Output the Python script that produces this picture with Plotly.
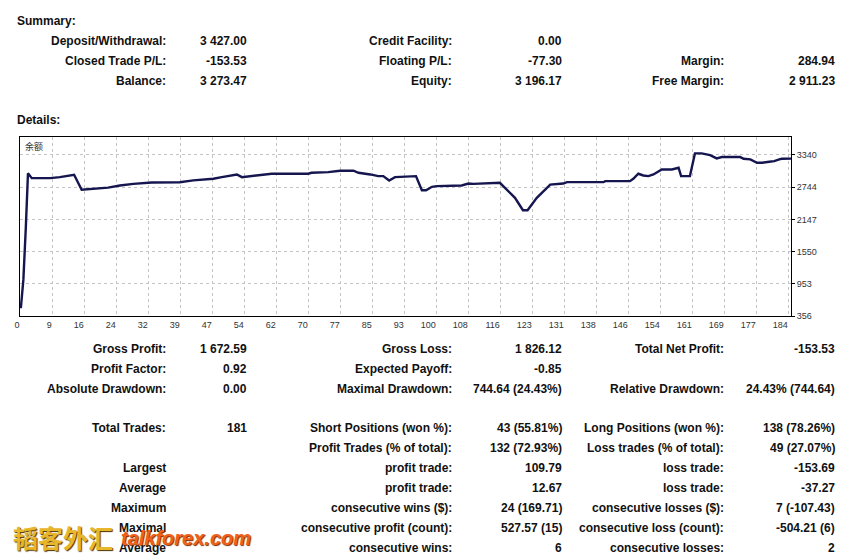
import numpy as np
import plotly.graph_objects as go

# ---------------- data ----------------
summary_col1_labels = ["Deposit/Withdrawal:", "Closed Trade P/L:", "Balance:"]
summary_col1_values = ["3 427.00", "-153.53", "3 273.47"]
summary_col2_labels = ["Credit Facility:", "Floating P/L:", "Equity:"]
summary_col2_values = ["0.00", "-77.30", "3 196.17"]
summary_col3_labels = ["", "Margin:", "Free Margin:"]
summary_col3_values = ["", "284.94", "2 911.23"]

details_rows = [
    ["Gross Profit:", "1 672.59", "Gross Loss:", "1 826.12", "Total Net Profit:", "-153.53"],
    ["Profit Factor:", "0.92", "Expected Payoff:", "-0.85", "", ""],
    ["Absolute Drawdown:", "0.00", "Maximal Drawdown:", "744.64 (24.43%)", "Relative Drawdown:", "24.43% (744.64)"],
    ["Total Trades:", "181", "Short Positions (won %):", "43 (55.81%)", "Long Positions (won %):", "138 (78.26%)"],
    ["", "", "Profit Trades (% of total):", "132 (72.93%)", "Loss trades (% of total):", "49 (27.07%)"],
    ["Largest", "", "profit trade:", "109.79", "loss trade:", "-153.69"],
    ["Average", "", "profit trade:", "12.67", "loss trade:", "-37.27"],
    ["Maximum", "", "consecutive wins ($):", "24 (169.71)", "consecutive losses ($):", "7 (-107.43)"],
    ["Maximal", "", "consecutive profit (count):", "527.57 (15)", "consecutive loss (count):", "-504.21 (6)"],
    ["Average", "", "consecutive wins:", "6", "consecutive losses:", "2"],
]

trade_index = [0.2, 0.8, 1.4, 1.9, 2.8, 7.2, 9.5, 11.9, 12.9, 14.7, 15.9, 21.0, 23.8, 27.0,
               31.4, 38.1, 41.3, 46.1, 48.1, 51.7, 52.9, 55.6, 60.0, 68.7, 69.5, 73.5, 76.3,
               79.5, 80.7, 83.5, 85.4, 86.6, 88.0, 89.4, 93.8, 94.4, 95.8, 96.8, 98.2, 99.4,
               105.3, 106.9, 108.1, 111.3, 112.5, 114.4, 118.0, 119.9, 121.0, 123.2, 126.4,
               129.5, 130.4, 139.1, 139.5, 145.4, 146.2, 147.4, 148.6, 149.8, 151.0, 153.0,
               155.4, 157.0, 157.6, 159.7, 160.9, 162.5, 164.5, 166.1, 167.3, 171.7, 172.5,
               174.1, 175.7, 176.9, 178.6, 179.8, 181.0, 181.6, 183.8]
balance = [500, 1025, 2016, 3000, 2910, 2910, 2930, 2970, 2973, 2695, 2705, 2735, 2774, 2805,
           2830, 2835, 2870, 2900, 2929, 2979, 2929, 2948, 2992, 2992, 3010, 3022, 3048,
           3048, 3010, 2979, 2948, 2948, 2867, 2929, 2948, 2948, 2687, 2687, 2750, 2762,
           2774, 2811, 2805, 2811, 2824, 2824, 2545, 2316, 2316, 2545, 2792,
           2811, 2836, 2836, 2855, 2855, 2898, 2992, 2960, 2948, 2979, 3072,
           3072, 3103, 2948, 2948, 3369, 3369, 3338, 3276, 3301, 3301, 3270,
           3258, 3196, 3196, 3214, 3227, 3258, 3270, 3273]

x_tick_labels = ["0", "9", "16", "24", "32", "39", "47", "54", "62", "70", "77", "85", "93",
                 "100", "108", "116", "123", "131", "138", "146", "154", "161", "169", "177", "184"]
y_ticks = [356, 953, 1550, 2147, 2744, 3340]
chart_label = "余额"
watermark_cn = "韬客外汇"
watermark_en = "talkforex.com"

# ---------------- layout geometry ----------------
W, H = 841, 557
PL, PR, PT, PB = 20, 791, 137, 316  # plot area in pixels
X_MAX = 183.8
Y_MIN, Y_MAX = 356, 3673


def px(x):
    return (x - PL) / (PR - PL)


def py(y):
    return (PB - y) / (PB - PT)


grid_step = X_MAX * 32 / (PR - PL)
first_grid = X_MAX * 32.3 / (PR - PL)
x_tickvals = [0] + [first_grid + grid_step * k for k in range(len(x_tick_labels) - 1)]

fig = go.Figure()
fig.add_trace(go.Scatter(x=trade_index, y=balance, mode="lines",
                         line=dict(color="#15154f", width=2.4), hoverinfo="skip",
                         showlegend=False))

FONT = "Liberation Sans, Arial, sans-serif"
TXT = "#111111"
ann = []


def label(x, y, text, anchor="right", bold=True, size=12):
    if not text:
        return
    ann.append(dict(x=px(x), y=py(y), xref="paper", yref="paper", text=text,
                    showarrow=False, xanchor=anchor, yanchor="middle",
                    xshift=2 if anchor == "right" else -2,
                    font=dict(family=FONT, size=size, color=TXT,
                              weight="bold" if bold else "normal")))


label(17, 21, "Summary:", anchor="left")
label(17, 120, "Details:", anchor="left")

sum_y = [41, 61, 81]
for i, yv in enumerate(sum_y):
    label(166, yv, summary_col1_labels[i])
    label(247, yv, summary_col1_values[i])
    label(452, yv, summary_col2_labels[i])
    label(562, yv, summary_col2_values[i])
    label(724, yv, summary_col3_labels[i])
    label(835, yv, summary_col3_values[i])

det_y = [349, 369, 389, 428, 448, 468, 488, 508, 528, 548]
col_right = [166, 247, 452, 562, 724, 835]
for row, yv in zip(details_rows, det_y):
    for c, t in enumerate(row):
        label(col_right[c], yv, t)

# chart caption
ann.append(dict(x=px(23), y=py(146), xref="paper", yref="paper", text=chart_label,
                showarrow=False, xanchor="left", yanchor="middle",
                font=dict(family="Noto Sans CJK SC", size=9, color="#333333")))

# watermark
ann.append(dict(x=px(11), y=py(537), xref="paper", yref="paper", text=watermark_cn,
                showarrow=False, xanchor="left", yanchor="middle",
                font=dict(family="Noto Sans CJK SC", size=25, color="#e8b62a", weight="bold",
                          shadow="1px 1px 1px #4a3000")))
ann.append(dict(x=px(119), y=py(538), xref="paper", yref="paper", text=watermark_en,
                showarrow=False, xanchor="left", yanchor="middle",
                font=dict(family=FONT, size=20, color="#f0601a", weight="bold", style="italic",
                          shadow="1px 1px 1px #7a2a00")))

fig.update_layout(
    width=W, height=H,
    margin=dict(l=PL, r=W - PR, t=PT, b=H - PB, pad=0),
    paper_bgcolor="white", plot_bgcolor="white",
    annotations=ann,
    xaxis=dict(range=[0, X_MAX], tickmode="array", tickvals=x_tickvals, ticktext=x_tick_labels,
               showgrid=True, gridcolor="#c4c4c4", griddash="3px,3px", gridwidth=1,
               showline=True, linecolor="black", linewidth=1, mirror=True,
               ticks="", ticklabelposition="outside left", zeroline=False,
               tickfont=dict(family=FONT, size=9, color="#333333")),
    yaxis=dict(range=[Y_MIN, Y_MAX], tickmode="array", tickvals=y_ticks,
               ticktext=[str(v) for v in y_ticks], side="right",
               showgrid=True, gridcolor="#c4c4c4", griddash="3px,3px", gridwidth=1,
               showline=True, linecolor="black", linewidth=1, mirror=True,
               ticks="outside", ticklen=3, tickcolor="black", zeroline=False,
               tickfont=dict(family=FONT, size=9, color="#333333")),
)

fig.write_html("out.html")
